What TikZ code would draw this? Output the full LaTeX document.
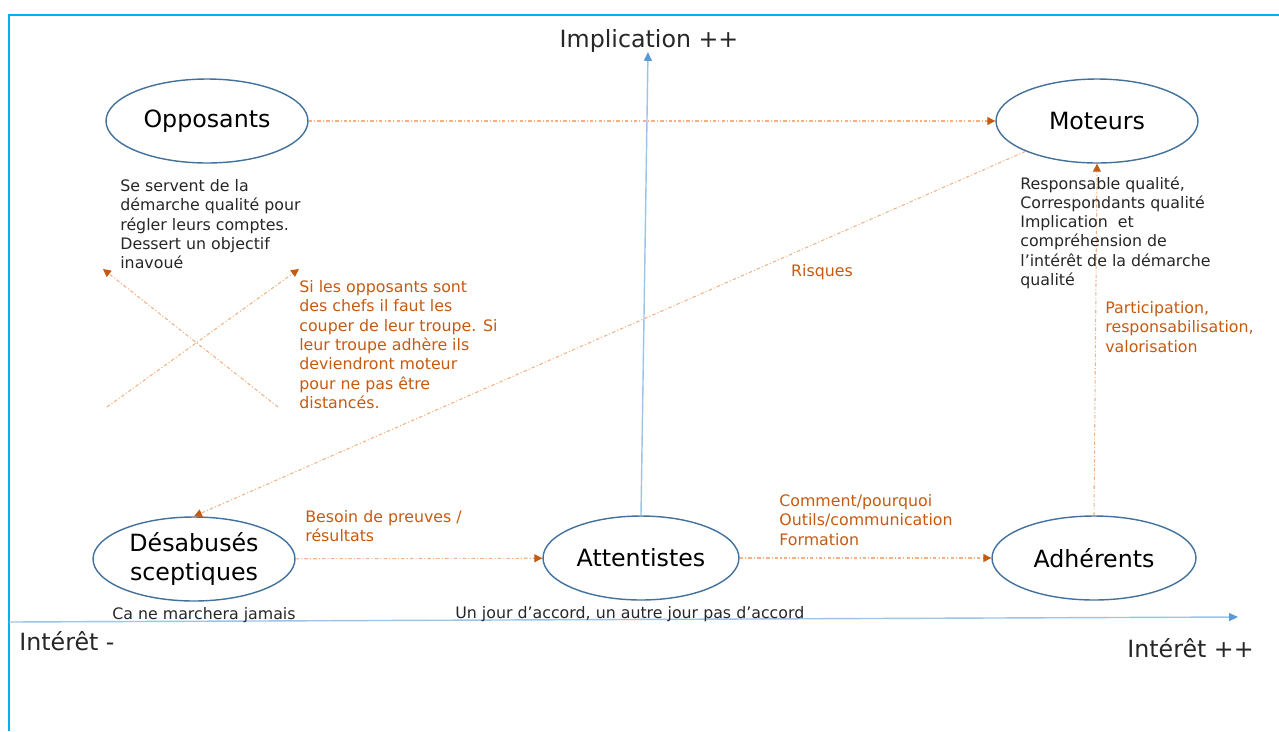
\documentclass[tikz,border=0pt]{standalone}
\usepackage{fontspec}
\setmainfont{DejaVu Sans}
\usetikzlibrary{shapes.geometric}
\usetikzlibrary{arrows.meta}
\definecolor{cadre}{HTML}{00B0F0}
\definecolor{bordure}{HTML}{41719C}
\definecolor{axe}{HTML}{9DC3E6}
\definecolor{axepointe}{HTML}{5B9BD5}
\definecolor{lienclair}{HTML}{F4B183}
\definecolor{liensombre}{HTML}{C55A11}

\begin{document}
\begin{tikzpicture}[x=0.02cm, y=-0.02cm,
    groupe/.style={draw=bordure, line width=0.8pt, ellipse, inner sep=0pt,
        minimum width=4.04cm, minimum height=1.68cm, align=center,
        font=\fontsize{13.5}{16}\selectfont},
    texte/.style={inner sep=0pt, align=left, text=black!85,
        font=\fontsize{9}{11}\selectfont},
    remarque/.style={texte, text=liensombre},
    titre/.style={inner sep=0pt, text=black!85, font=\fontsize{13.5}{16}\selectfont},
    lien/.style={draw=lienclair, line width=0.6pt,
        dash pattern=on 2pt off 1.2pt on 0.6pt off 1.2pt,
        -{Triangle[length=4.5pt, width=4.5pt, color=liensombre]}},
    axeligne/.style={draw=axe, line width=0.8pt,
        -{Triangle[length=5pt, width=4.5pt, color=axepointe]}}]
    \useasboundingbox (0,0) rectangle (1279,731);

    % Frame
    \draw[cadre, line width=1.1pt] (9,731) -- (9,15) -- (1279,15);

    % Groups
    \node[groupe] (opp) at (207,121) {Opposants};
    \node[groupe] (mot) at (1097,121) {Moteurs};
    \node[groupe] (des) at (194,559) {Désabusés\\sceptiques};
    \node[groupe, minimum width=3.92cm] (att) at (641,558) {Attentistes};
    \node[groupe, minimum width=4.08cm] (adh) at (1094,558) {Adhérents};

    % Axes
    \coordinate (gauche) at (9,622);
    \coordinate (droite) at (1238,617);
    \coordinate (haut) at (648,52);
    \draw[axeligne] (gauche) -- (droite);
    \draw[axeligne] (att.north) -- (haut);
    \node[titre, anchor=base] (impl) at (649,47) {Implication ++};
    \node[titre, anchor=base west] (intmoins) at (19,650) {Intérêt -};
    \node[titre, anchor=base west] (intplus) at (1127,657) {Intérêt ++};

    % Moves between groups
    \draw[lien] (opp) -- (mot);
    \draw[lien] (mot.203) -- (des.north);
    \draw[lien] (des) -- (att);
    \draw[lien] (att) -- (adh);
    \draw[lien] (adh.north) -- (mot.south);

    % Cross under the opponents
    \coordinate (croixa) at (278,407);
    \coordinate (croixb) at (103,269);
    \coordinate (croixc) at (107,407);
    \coordinate (croixd) at (299,269);
    \draw[lien] (croixa) -- (croixb);
    \draw[lien] (croixc) -- (croixd);

    % Descriptions
    \node[texte, anchor=north west] (descopp) at (120,179)
        {Se servent de la\\démarche qualité pour\\régler leurs comptes.\\Dessert un objectif\\inavoué};
    \node[texte, anchor=north west] (descmot) at (1020,176)
        {Responsable qualité,\\Correspondants qualité\\Implication\ \ et\\compréhension de\\l’intérêt de la démarche\\qualité};
    \node[texte, anchor=base] (descdes) at (204,619) {Ca ne marchera jamais};
    \node[texte, anchor=base west] (descatt) at (455,618) {Un jour d’accord, un autre jour pas d’accord};

    % Notes on the moves
    \node[remarque, anchor=north west] (chefs) at (299,280)
        {Si les opposants sont\\des chefs il faut les\\couper de leur troupe. Si\\leur troupe adhère ils\\deviendront moteur\\pour ne pas être\\distancés.};
    \node[remarque, anchor=base] (risques) at (822,276) {Risques};
    \node[remarque, anchor=north west] (particip) at (1105,301)
        {Participation,\\responsabilisation,\\valorisation};
    \node[remarque, anchor=north west] (preuves) at (305,510)
        {Besoin de preuves /\\résultats};
    \node[remarque, anchor=north west] (comment) at (779,494)
        {Comment/pourquoi\\Outils/communication\\Formation};
\end{tikzpicture}
\end{document}
